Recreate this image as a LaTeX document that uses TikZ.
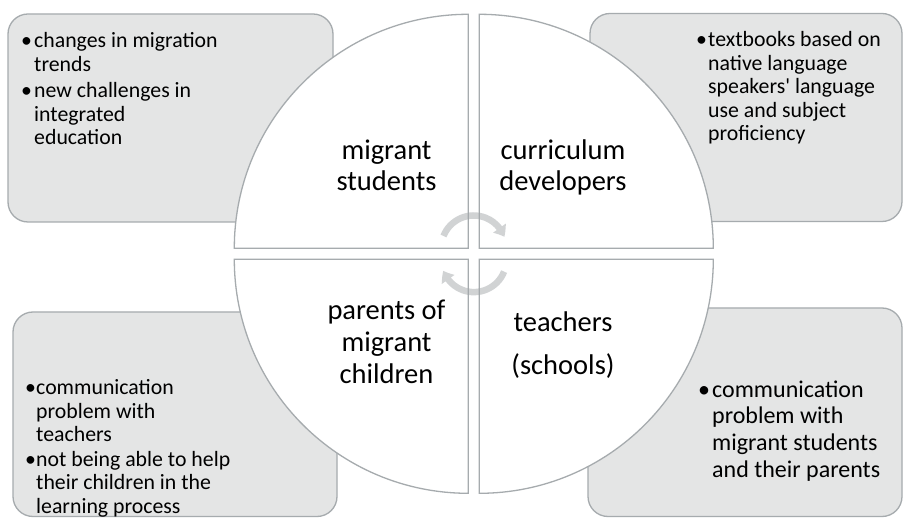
\documentclass[tikz,border=0pt]{standalone}
\usepackage{fontspec}
\setmainfont{Carlito}
\usetikzlibrary{arrows.meta,bending}
\definecolor{boxfill}{HTML}{E4E5E5}
\definecolor{edgegray}{HTML}{A6ABAE}
\definecolor{cyclegray}{HTML}{A4A8AB}
% bullet set in a box of fixed width (hanging indent for the item text)
\newcommand\bul[1][13pt]{\makebox[#1][l]{\textbullet}}
\begin{document}
\begin{tikzpicture}[x=1pt,y=-1pt,
  sidebox/.style={draw=edgegray, fill=boxfill, line width=1.3pt,
    rounded corners=20pt, anchor=north west, inner sep=0pt, outer sep=0pt},
  quad/.style={draw=edgegray, fill=white, line width=1.3pt},
  smalltext/.style={font=\fontsize{21.8}{23.5}\selectfont, anchor=base west, inner sep=0pt},
  bigtext/.style={font=\fontsize{24}{26.6}\selectfont, anchor=base west, inner sep=0pt},
  quadtext/.style={font=\fontsize{28.5}{30.7}\selectfont, anchor=base, inner sep=0pt},
  cyclearrow/.style={draw=cyclegray, line width=6.5pt,
    -{Triangle[width=15pt,length=10pt,bend]}}
]
\useasboundingbox (0,0) rectangle (903,518);
\fill[white] (0,0) rectangle (903,518);

% corner boxes (behind the circle)
\node[sidebox, minimum width=325pt, minimum height=208pt] (tlbox) at (8,14) {};
\node[sidebox, minimum width=312pt, minimum height=208pt] (trbox) at (590,13.5) {};
\node[sidebox, minimum width=324pt, minimum height=204.5pt] (blbox) at (13,312) {};
\node[sidebox, minimum width=314pt, minimum height=208.5pt] (brbox) at (588,308) {};

% circle split into four quadrants
\coordinate (qtl) at (468.3,248.3);
\coordinate (qtr) at (479.3,248.3);
\coordinate (qbl) at (468.3,259.3);
\coordinate (qbr) at (479.3,259.3);
\draw[quad] (qtl) -- ++(-234,0) arc[start angle=180,end angle=270,radius=234] -- cycle;
\draw[quad] (qtr) -- ++(0,-234) arc[start angle=270,end angle=360,radius=234] -- cycle;
\draw[quad] (qbr) -- ++(234,0) arc[start angle=0,end angle=90,radius=234] -- cycle;
\draw[quad] (qbl) -- ++(0,234) arc[start angle=90,end angle=180,radius=234] -- cycle;

% cycle arrows in the middle
\coordinate (cu) at (473.7,248);
\coordinate (cl) at (473.9,259.6);
\begin{scope}[transparency group, opacity=0.5]
\draw[cyclearrow] ([shift={(201.7:32.5)}]cu) arc[start angle=201.7,end angle=340,radius=32.5];
\end{scope}
\begin{scope}[transparency group, opacity=0.5]
\draw[cyclearrow] ([shift={(21.7:32.5)}]cl) arc[start angle=21.7,end angle=160,radius=32.5];
\end{scope}

% quadrant labels
\node[quadtext] (ms) at (386.5,160) {\begin{tabular}[t]{@{}c@{}}migrant\\students\end{tabular}};
\node[quadtext] (cd) at (563,160) {\begin{tabular}[t]{@{}c@{}}curriculum\\developers\end{tabular}};
\node[quadtext] (pm) at (386.5,320) {\begin{tabular}[t]{@{}c@{}}parents of\\[0.9pt]migrant\\[0.9pt]children\end{tabular}};
\node[quadtext] (ts) at (563,331.7) {\begin{tabular}[t]{@{}c@{}}teachers\\[12.3pt](schools)\end{tabular}};

% bullet lists in the corner boxes
\node[smalltext] (tlt) at (21,48) {\begin{tabular}[t]{@{}l@{}l@{}}
\bul & changes in migration\\
 & trends\\[3pt]
\bul & new challenges in\\
 & integrated\\
 & education
\end{tabular}};
\node[smalltext] (trt) at (696,46.7) {\begin{tabular}[t]{@{}l@{}l@{}}
\bul[12pt] & textbooks based on\\
 & native language\\
 & speakers\textquotesingle{} language\\
 & use and subject\\
 & proficiency
\end{tabular}};
\node[smalltext] (blt) at (25,395) {\begin{tabular}[t]{@{}l@{}l@{}}
\bul[11pt] & communication\\
 & problem with\\
 & teachers\\[1pt]
\bul[11pt] & not being able to help\\
 & their children in the\\
 & learning process
\end{tabular}};
\node[bigtext] (brt) at (698,397.3) {\begin{tabular}[t]{@{}l@{}l@{}}
\bul[14pt] & communication\\
 & problem with\\
 & migrant students\\
 & and their parents
\end{tabular}};
\end{tikzpicture}
\end{document}
